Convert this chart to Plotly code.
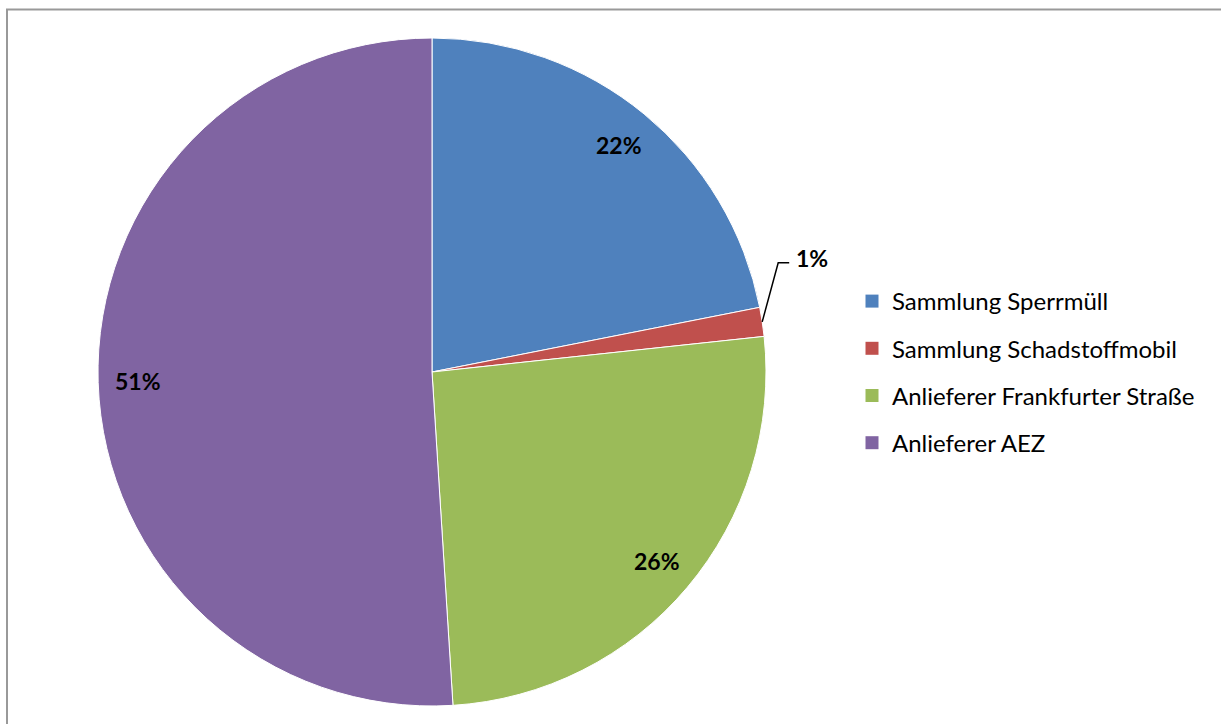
import math
import plotly.graph_objects as go

categories = ["Sammlung Sperrmüll", "Sammlung Schadstoffmobil",
              "Anlieferer Frankfurter Straße", "Anlieferer AEZ"]
shares = [21.9, 1.4, 25.7, 51.0]
colors = ["#4F81BD", "#C0504D", "#9BBB59", "#8064A2"]

W, H = 1221, 724
cx, cy, r = 432, 372, 334  # pie centre / radius in px
dom_x = [(cx - r) / W, (cx + r) / W]
dom_y = [(H - cy - r) / H, (H - cy + r) / H]


def to_paper(px, py):
    return px / W, 1 - py / H


def polar(frac, k):
    a = math.radians(frac * 360)
    return cx + k * r * math.sin(a), cy - k * r * math.cos(a)


fig = go.Figure()
fig.add_trace(go.Pie(labels=categories, values=shares, sort=False,
                     direction="clockwise", rotation=0,
                     marker=dict(colors=colors, line=dict(color="white", width=1)),
                     textinfo="none", showlegend=False,
                     domain=dict(x=dom_x, y=dom_y)))

# legend entries (separate groups so the row spacing can be opened up)
for cat, col in zip(categories, colors):
    fig.add_trace(go.Scatter(x=[None], y=[None], mode="markers", name=cat,
                             legendgroup=cat,
                             marker=dict(symbol="square", size=13, color=col)))

annotations = []
shapes = []
total = sum(shares)
cum = 0
for v in shares:
    mid = (cum + v / 2) / total
    cum += v
    label = f"{round(v / total * 100)}%"
    if v / total < 0.05:
        x0, y0 = polar(mid, 1.0)
        x1, y1 = x0 + 16, y0 - 59
        x2, y2 = x1 + 11, y1
        p = [to_paper(*pt) for pt in [(x0, y0), (x1, y1), (x2, y2)]]
        shapes.append(dict(type="path", xref="paper", yref="paper",
                           path=f"M {p[0][0]},{p[0][1]} L {p[1][0]},{p[1][1]} L {p[2][0]},{p[2][1]}",
                           line=dict(color="black", width=1.5)))
        tx, ty = to_paper(x2 + 5, y2 - 5)
        annotations.append(dict(x=tx, y=ty, xref="paper", yref="paper", text=f"<b>{label}</b>",
                                showarrow=False, xanchor="left", yanchor="middle"))
    else:
        tx, ty = to_paper(*polar(mid, 0.88))
        annotations.append(dict(x=tx, y=ty, xref="paper", yref="paper", text=f"<b>{label}</b>",
                                showarrow=False, xanchor="center", yanchor="middle"))

# outer chart border
shapes.append(dict(type="rect", xref="paper", yref="paper",
                   x0=7 / W, x1=1.02, y0=-0.02, y1=1 - 9.5 / H,
                   line=dict(color="#999999", width=2)))

fig.update_layout(
    width=W, height=H,
    margin=dict(l=0, r=0, t=0, b=0),
    paper_bgcolor="white", plot_bgcolor="white",
    font=dict(family="Lato, Arial, sans-serif", size=23, color="black"),
    xaxis=dict(visible=False), yaxis=dict(visible=False),
    legend=dict(x=852 / W, y=1 - 279 / H, xanchor="left", yanchor="top",
                tracegroupgap=13, font=dict(size=24), bgcolor="rgba(0,0,0,0)"),
    annotations=annotations, shapes=shapes,
)

fig.write_html("out.html", config={"displayModeBar": False},
               post_script="document.body.style.margin='0';")
